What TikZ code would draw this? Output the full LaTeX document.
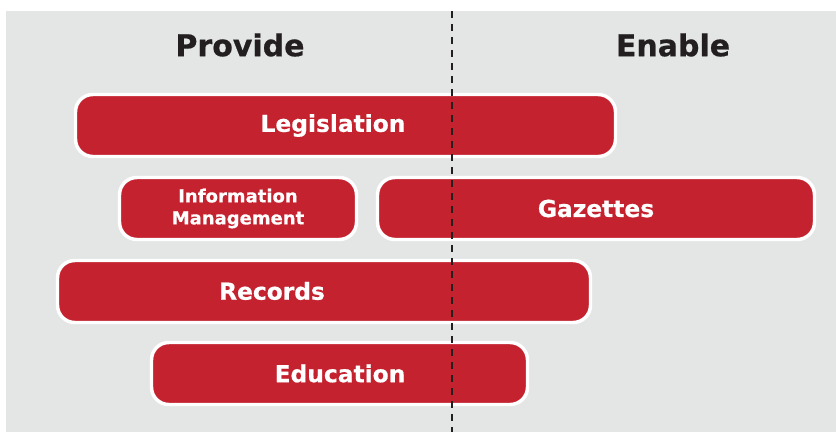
\documentclass[tikz,border=0pt]{standalone}
\usepackage{fontspec}
\setmainfont{DejaVu Sans}[BoldFeatures={FakeBold=0.6}]

\definecolor{panelgray}{RGB}{228,229,229}
\definecolor{boxred}{RGB}{196,34,46}
\definecolor{headink}{RGB}{35,31,32}

\tikzset{
    redbox/.style={draw=white, line width=2.6pt, fill=boxred, rounded corners=13pt,
        minimum height=46.5pt, inner sep=0pt},
    boxtext/.style={text=white, font=\bfseries\fontsize{17.5}{20}\selectfont, inner sep=0.75pt},
    smalltext/.style={text=white, font=\bfseries\fontsize{13.5}{16.5}\selectfont, align=center, inner sep=0.75pt},
    headtext/.style={text=headink, font=\bfseries\fontsize{22.5}{26}\selectfont, inner sep=0.75pt},
}

\begin{document}
\begin{tikzpicture}[x=0.75pt,y=0.75pt,yscale=-1,xscale=1]
    \useasboundingbox (0,0) rectangle (836,432);

    %Shape: Rectangle [id:panel]
    \fill [panelgray] (6,11) rectangle (836,432);

    % Text Node
    \node (provide) [headtext] at (240,45) {Provide};
    % Text Node
    \node (enable) [headtext] at (673,45) {Enable};

    %Shape: Rounded Rect [id:legislation]
    \node (legbox) [redbox, minimum width=405pt] at (345.5,125.5) {};
    %Shape: Rounded Rect [id:infomgmt]
    \node (infobox) [redbox, minimum width=177.75pt] at (238,208.5) {};
    %Shape: Rounded Rect [id:gazettes]
    \node (gazbox) [redbox, minimum width=327.75pt] at (596,208.5) {};
    %Shape: Rounded Rect [id:records]
    \node (recbox) [redbox, minimum width=399.75pt] at (324,291.5) {};
    %Shape: Rounded Rect [id:education]
    \node (edubox) [redbox, minimum width=282pt] at (339.5,373.5) {};

    % Text Node
    \node (leg) [boxtext] at (333,125.5) {Legislation};
    % Text Node
    \node (info) [smalltext] at (238,208.5) {Information\\Management};
    % Text Node
    \node (gaz) [boxtext] at (596,208.5) {Gazettes};
    % Text Node
    \node (rec) [boxtext] at (272,291) {Records};
    % Text Node
    \node (edu) [boxtext] at (340,373.5) {Education};

    %Straight Lines [id:divider]
    \coordinate (divtop) at (452,11);
    \coordinate (divbot) at (452,432);
    \draw [headink, line width=1.6pt, dash pattern={on 5.25pt off 4.5pt}] (divtop) -- (divbot);

\end{tikzpicture}
\end{document}
